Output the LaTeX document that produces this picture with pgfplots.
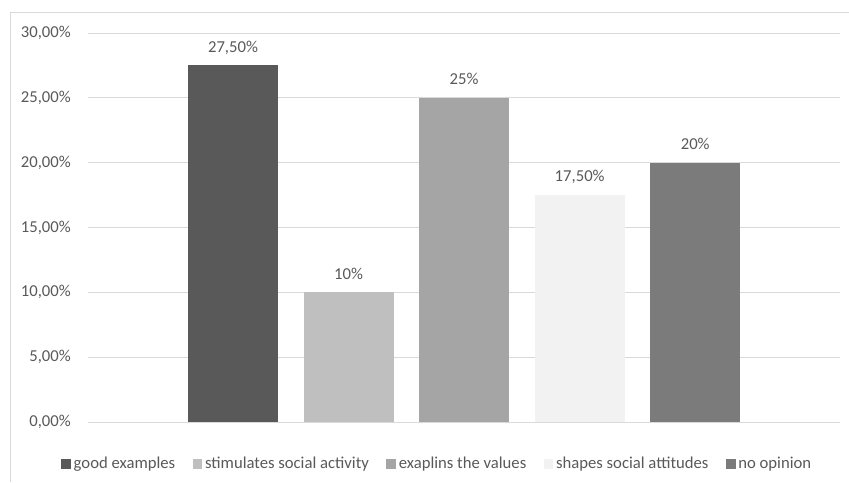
\documentclass[border=0pt]{standalone}
\usepackage{fontspec}
\setmainfont{Carlito}
\usepackage{pgfplots}
\pgfplotsset{compat=1.18}

\definecolor{barA}{HTML}{595959}
\definecolor{barB}{HTML}{BFBFBF}
\definecolor{barC}{HTML}{A5A5A5}
\definecolor{barD}{HTML}{F2F2F2}
\definecolor{barE}{HTML}{7B7B7B}
\definecolor{gridgray}{HTML}{D9D9D9}
\definecolor{textgray}{HTML}{595959}

\begin{document}
\fontsize{12.5pt}{15pt}\selectfont
\begin{tikzpicture}
\useasboundingbox (0pt,0pt) rectangle (636.75pt,361.5pt);
% chart frame
\draw[gridgray, line width=0.75pt] (7.5pt,0pt) -- (7.5pt,351.75pt) -- (636.75pt,351.75pt);
\begin{axis}[
  at={(66pt,45pt)}, anchor=south west,
  scale only axis, width=564pt, height=291.75pt,
  xmin=-1.255, xmax=5.253,
  ymin=0, ymax=30,
  ytick={0,5,10,15,20,25,30},
  yticklabels={{0,00\%},{5,00\%},{10,00\%},{15,00\%},{20,00\%},{25,00\%},{30,00\%}},
  xtick=\empty,
  major tick length=0pt,
  axis lines*=left,
  y axis line style={draw=none},
  x axis line style={draw=gridgray, line width=0.75pt, -},
  ymajorgrids,
  grid style={gridgray, line width=0.75pt},
  yticklabel style={text=textgray, anchor=east, inner sep=0pt, xshift=-12.75pt, font=\fontsize{12.5pt}{15pt}\selectfont},
  ybar, bar width=67.5pt,
  nodes near coords style={text=textgray, anchor=base, inner sep=0pt, yshift=10pt, font=\fontsize{12.5pt}{15pt}\selectfont},
  legend style={at={(0.4648,-0.108)}, anchor=center, draw=none, fill=none,
    legend columns=-1, font=\fontsize{12.5pt}{15pt}\selectfont, text=textgray,
    /tikz/every even column/.append style={column sep=11pt}},
  legend cell align=left,
  legend image code/.code={\fill[#1] (0pt,-3.6pt) rectangle (7.4pt,3.8pt);},
]
\addplot[fill=barA, draw=none, bar shift=0pt, nodes near coords={27,50\%}] coordinates {(0,27.5)};
\addlegendentry{good examples}
\addplot[fill=barB, draw=none, bar shift=0pt, nodes near coords={10\%}] coordinates {(1,10)};
\addlegendentry{stimulates social activity}
\addplot[fill=barC, draw=none, bar shift=0pt, nodes near coords={25\%}] coordinates {(2,25)};
\addlegendentry{exaplins the values}
\addplot[fill=barD, draw=none, bar shift=0pt, nodes near coords={17,50\%}] coordinates {(3,17.5)};
\addlegendentry{shapes social attitudes}
\addplot[fill=barE, draw=none, bar shift=0pt, nodes near coords={20\%}] coordinates {(4,20)};
\addlegendentry{no opinion}
\end{axis}
\end{tikzpicture}
\end{document}
